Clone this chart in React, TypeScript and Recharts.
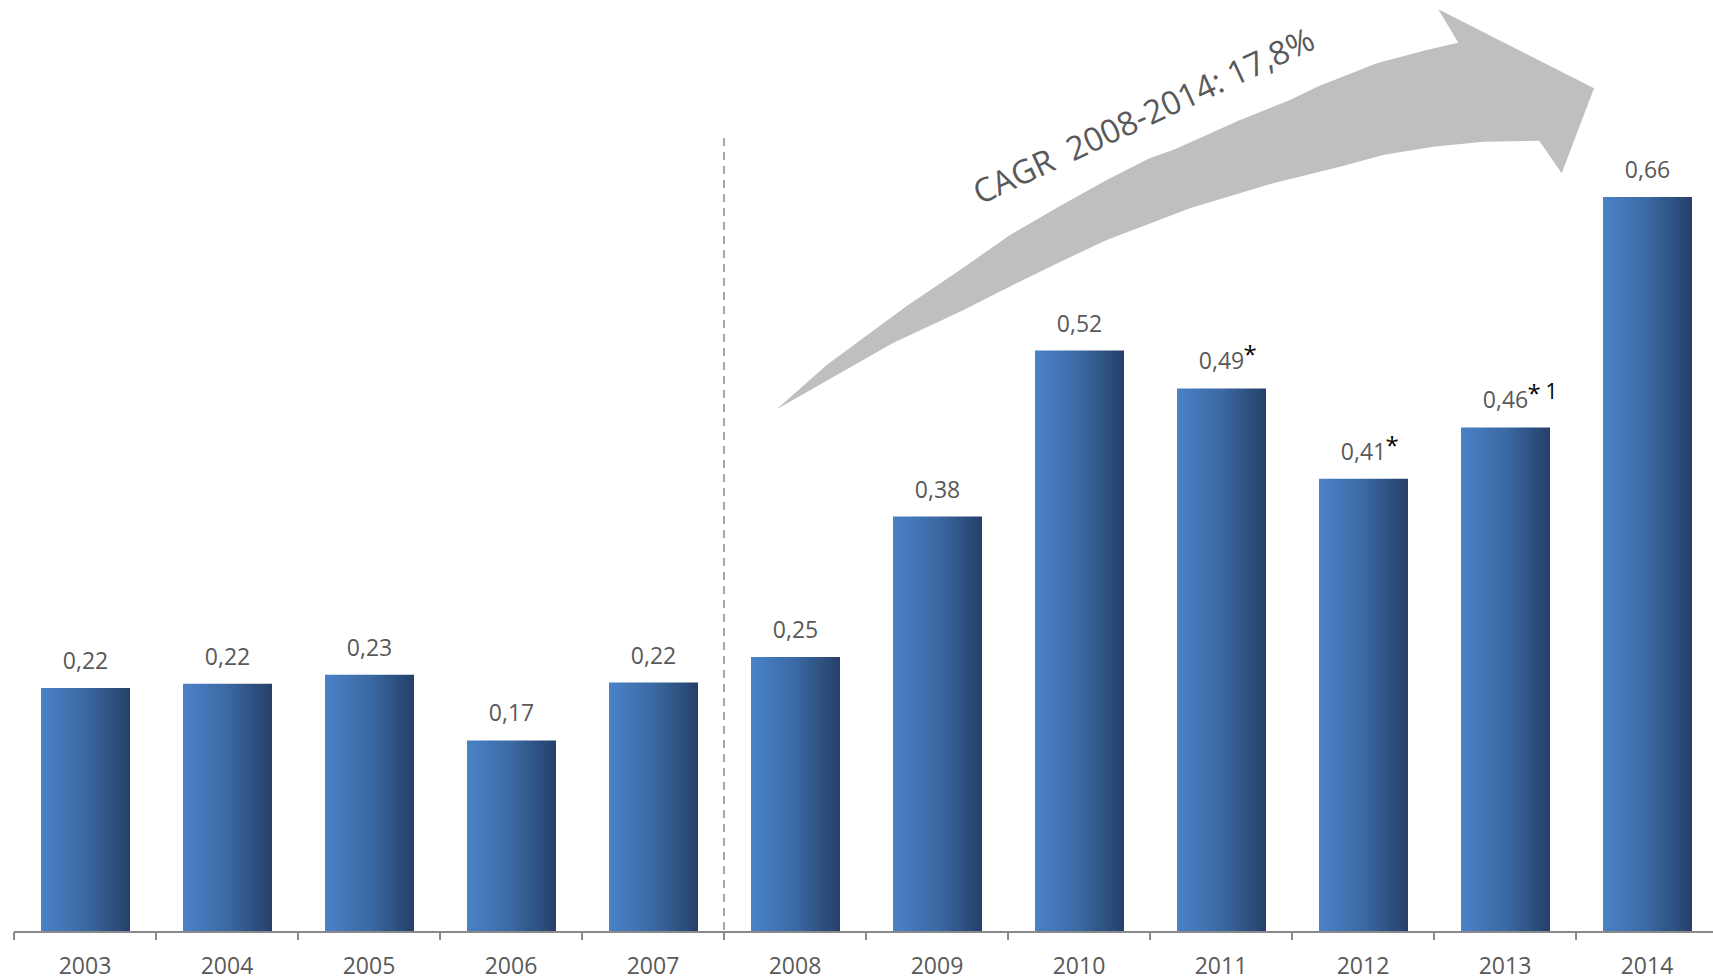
import React from "react";
import { BarChart, Bar, XAxis, YAxis, LabelList, ReferenceLine } from "recharts";

const years = ["2003", "2004", "2005", "2006", "2007", "2008", "2009", "2010", "2011", "2012", "2013", "2014"];
const values = [0.219, 0.223, 0.231, 0.172, 0.224, 0.247, 0.373, 0.522, 0.488, 0.407, 0.453, 0.66];
const labels = ["0,22", "0,22", "0,23", "0,17", "0,22", "0,25", "0,38", "0,52", "0,49", "0,41", "0,46", "0,66"];
const stars = ["", "", "", "", "", "", "", "", "*", "*", "*", ""];
const footnotes = ["", "", "", "", "", "", "", "", "", "", "1", ""];
const cagrText = "CAGR  2008-2014: 17,8%";

const FONT = "'Open Sans', 'Noto Sans', sans-serif";
const GREY = "#595959";
const BAND = 141.93;

const data = years.map((year, i) => ({ year, value: values[i], label: labels[i] }));

const ValueLabel = (props: any) => {
  const { x, y, width, index, value } = props;
  const cx = Number(x) + Number(width) / 2;
  const base = Number(y) - 19;
  return (
    <g>
      <text x={cx} y={base} textAnchor="middle" fill={GREY} fontSize={23} fontFamily={FONT}>
        {value}
      </text>
      {stars[index] ? (
        <text x={cx + 22} y={base - 6} fill="#000" fontSize={24} fontFamily={FONT}>
          {stars[index]}
        </text>
      ) : null}
      {footnotes[index] ? (
        <text x={cx + 40} y={base - 9} fill="#000" fontSize={21} fontFamily={FONT}>
          {footnotes[index]}
        </text>
      ) : null}
    </g>
  );
};

const YearTick = (props: any) => {
  const { x, y, payload } = props;
  const left = x - BAND / 2;
  return (
    <g>
      <line x1={left} x2={left} y1={y - 8} y2={y} stroke="#898989" strokeWidth={2} />
      <text x={x} y={y + 34} textAnchor="middle" fill={GREY} fontSize={23} fontFamily={FONT}>
        {payload.value}
      </text>
    </g>
  );
};

const DashedDivider = (props: any) => {
  const { x1, y2, y1 } = props;
  const bottom = Math.max(Number(y1), Number(y2));
  return <line x1={x1} x2={x1} y1={138} y2={bottom} stroke="#a6a6a6" strokeWidth={2} strokeDasharray="8 6" />;
};

// freeform growth arrow drawn like the slide shape
const arrowPath =
  "M 776.7 409.3 L 826.7 365 L 866 336 L 906.7 306 L 960 270 L 1010 235 L 1060 206 L 1106.7 180 L 1150 158 " +
  "L 1173 150 L 1200 138 L 1240 120 L 1290 100 L 1316.7 87 L 1376.7 63.3 L 1426.7 50 L 1458.3 42.7 L 1438.3 9.3 " +
  "L 1594 88.3 L 1561.7 173.3 L 1539.3 140.7 L 1483.3 141.7 L 1433 146.7 L 1383 155 L 1340 166.7 L 1273 183.3 " +
  "L 1190 208.3 L 1106.7 240 L 1060 262 L 1013 285 L 960 311.7 L 893 343 Z";

export default function App() {
  return (
    <div style={{ position: "absolute", left: 0, top: 0, width: 1713, height: 978, background: "#fff" }}>
      <BarChart
        width={1713}
        height={978}
        data={data}
        margin={{ top: 41, right: -5, left: 14, bottom: 0 }}
        barSize={89}
      >
        <defs>
          <linearGradient id="barFill" x1="0" y1="0" x2="1" y2="0">
            <stop offset="0%" stopColor="#4a82c8" />
            <stop offset="50%" stopColor="#3b69a3" />
            <stop offset="100%" stopColor="#254069" />
          </linearGradient>
        </defs>
        <XAxis
          dataKey="year"
          height={46}
          interval={0}
          tickSize={8}
          tickMargin={0}
          tickLine={false}
          axisLine={{ stroke: "#898989", strokeWidth: 2 }}
          tick={<YearTick />}
        />
        <YAxis hide domain={[0, 0.8]} />
        <ReferenceLine x="2008" position="start" shape={<DashedDivider />} />
        <Bar dataKey="value" fill="url(#barFill)" isAnimationActive={false}>
          <LabelList dataKey="label" content={<ValueLabel />} />
        </Bar>
      </BarChart>
      <svg
        width={1713}
        height={978}
        style={{ position: "absolute", left: 0, top: 0, pointerEvents: "none" }}
      >
        <path d={arrowPath} fill="#bfbfbf" />
        <text
          x={980}
          y={205}
          transform="rotate(-25 980 205)"
          fill={GREY}
          fontSize={33}
          fontFamily={FONT}
          textLength={372}
          lengthAdjust="spacingAndGlyphs"
          style={{ whiteSpace: "pre" }}
        >
          {cagrText}
        </text>
      </svg>
    </div>
  );
}
